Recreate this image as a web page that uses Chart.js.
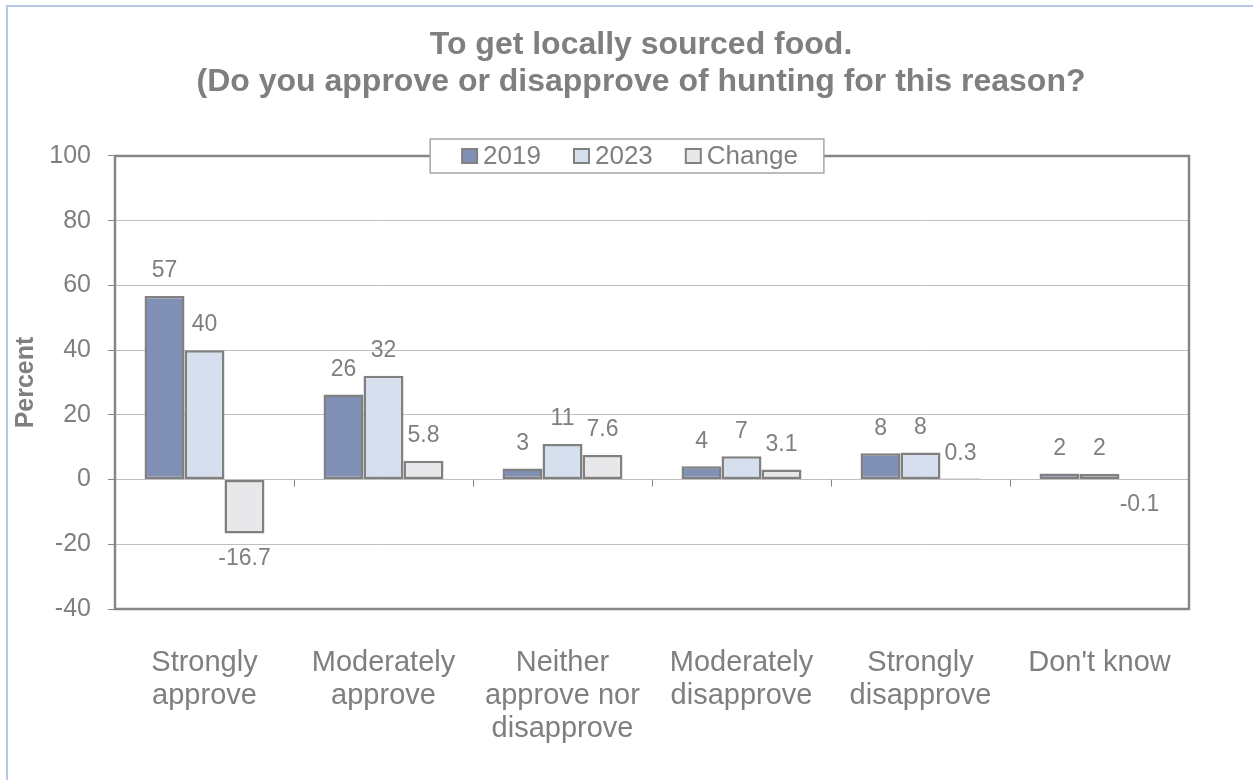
<!DOCTYPE html>
<html>
<head>
<meta charset="utf-8">
<title>To get locally sourced food</title>
<script src="https://cdn.jsdelivr.net/npm/chart.js@4.4.1/dist/chart.umd.min.js"></script>
<style>
    html, body { margin: 0; padding: 0; background: #fff; }
    #wrap { position: relative; width: 1253px; height: 780px; }
</style>
</head>
<body>
<div id="wrap"><canvas id="chart" width="1253" height="780"></canvas></div>
<script>
// ===== DATA =====
const categories = [
    ['Strongly', 'approve'],
    ['Moderately', 'approve'],
    ['Neither', 'approve nor', 'disapprove'],
    ['Moderately', 'disapprove'],
    ['Strongly', 'disapprove'],
    ["Don't know"]
];
const seriesNames = ['2019', '2023', 'Change'];
const values2019 = [56.7, 26.3, 3.4, 4.1, 8.1, 1.9];
const values2023 = [40.0, 32.1, 11.0, 7.2, 8.4, 1.8];
const valuesChange = [-16.7, 5.8, 7.6, 3.1, 0.3, -0.1];
const yMin = -40;
const yMax = 100;
const yStep = 20;

// ===== STYLE =====
const FONT = "'Liberation Sans', Arial, Helvetica, sans-serif";
const TEXT = '#7f7f7f';
const EDGE = '#808080';
const fills = ['#8090b4', '#d6dfee', '#e8e8ea'];

// ===== EXTRA DRAWING: frame, ticks, value labels, legend =====
const framePlugin = {
    id: 'frame',
    afterLayout(chart) {
        // title sits slightly left of the plot centre
        const t = chart.titleBlock;
        if (t) { t.left -= 11; t.right -= 11; }
    },
    beforeDraw(chart) {
        const ctx = chart.ctx;
        ctx.save();
        ctx.strokeStyle = '#b4c7e7';
        ctx.lineWidth = 2;
        ctx.beginPath();
        ctx.moveTo(7, 780);
        ctx.lineTo(7, 6);
        ctx.lineTo(1253, 6);
        ctx.stroke();
        ctx.restore();
    },
    afterDraw(chart) {
        const { ctx, chartArea: a, scales: { x, y } } = chart;
        ctx.save();

        // plot border
        ctx.strokeStyle = '#868686';
        ctx.lineWidth = 2.5;
        ctx.strokeRect(a.left, a.top, a.right - a.left, a.bottom - a.top);

        // category ticks on the zero line
        const y0 = y.getPixelForValue(0);
        ctx.lineWidth = 1;
        ctx.strokeStyle = '#868686';
        for (let i = 1; i < categories.length; i++) {
            const px = Math.round((x.getPixelForTick(i - 1) + x.getPixelForTick(i)) / 2) + 0.5;
            ctx.beginPath();
            ctx.moveTo(px, y0);
            ctx.lineTo(px, y0 + 7);
            ctx.stroke();
        }

        // value labels
        ctx.font = '23px ' + FONT;
        ctx.fillStyle = TEXT;
        ctx.textAlign = 'center';
        ctx.textBaseline = 'middle';
        chart.data.datasets.forEach((ds, i) => {
            const meta = chart.getDatasetMeta(i);
            meta.data.forEach((bar, j) => {
                const v = ds.data[j];
                const txt = i === 2 ? v.toFixed(1) : String(Math.round(v));
                const ty = v >= 0 ? bar.y - 25 : bar.y + 25;
                ctx.fillText(txt, bar.x, ty);
            });
        });

        // legend box over the top border
        ctx.font = '26px ' + FONT;
        const sw = 15, gapText = 6, gapItem = 33;
        const widths = chart.data.datasets.map(ds => sw + gapText + ctx.measureText(ds.label).width);
        const total = widths.reduce((s, w) => s + w, 0) + gapItem * (widths.length - 1);
        const cy = a.top;
        let lx = 630 - total / 2;
        ctx.fillStyle = '#fff';
        ctx.fillRect(lx - 32, cy - 17, total + 58, 34);
        ctx.strokeStyle = '#a6a6a6';
        ctx.lineWidth = 1.5;
        ctx.strokeRect(lx - 32, cy - 17, total + 58, 34);
        ctx.textAlign = 'left';
        chart.data.datasets.forEach((ds, i) => {
            ctx.fillStyle = ds.backgroundColor;
            ctx.fillRect(lx, cy - 7, sw, 14);
            ctx.strokeStyle = EDGE;
            ctx.lineWidth = 2;
            ctx.strokeRect(lx, cy - 7, sw, 14);
            ctx.fillStyle = TEXT;
            ctx.fillText(ds.label, lx + sw + gapText, cy + 1);
            lx += widths[i] + gapItem;
        });

        ctx.restore();
    }
};

// ===== CHART =====
function makeDataset(label, data, color) {
    return {
        label: label,
        data: data,
        backgroundColor: color,
        borderColor: EDGE,
        borderWidth: 2.5,
        borderSkipped: false,
        categoryPercentage: 0.67,
        barPercentage: 1.0
    };
}

new Chart(document.getElementById('chart'), {
    type: 'bar',
    data: {
        labels: categories,
        datasets: [
            makeDataset(seriesNames[0], values2019, fills[0]),
            makeDataset(seriesNames[1], values2023, fills[1]),
            makeDataset(seriesNames[2], valuesChange, fills[2])
        ]
    },
    options: {
        responsive: false,
        animation: false,
        devicePixelRatio: 1,
        layout: { padding: { left: 0, right: 64, top: 0, bottom: 0 } },
        plugins: {
            legend: { display: false },
            tooltip: { enabled: false },
            title: {
                display: true,
                text: ['To get locally sourced food.', '(Do you approve or disapprove of hunting for this reason?'],
                color: TEXT,
                font: { family: FONT, size: 32, weight: 'bold', lineHeight: 1.156 },
                padding: { top: 27, bottom: 55 },
                fullSize: false
            }
        },
        scales: {
            x: {
                grid: { display: false, drawTicks: false },
                border: { display: false },
                ticks: {
                    color: TEXT,
                    padding: 37,
                    maxRotation: 0,
                    autoSkip: false,
                    font: { family: FONT, size: 29, lineHeight: 1.14 }
                },
                afterFit(scale) { scale.height = 171; }
            },
            y: {
                min: yMin,
                max: yMax,
                ticks: {
                    stepSize: yStep,
                    color: TEXT,
                    padding: 17,
                    font: { family: FONT, size: 25 }
                },
                grid: {
                    color: '#bfbfbf',
                    lineWidth: 1,
                    tickColor: '#868686',
                    tickLength: 7
                },
                border: { display: false },
                title: {
                    display: true,
                    text: 'Percent',
                    color: TEXT,
                    padding: { top: 11, bottom: 0 },
                    font: { family: FONT, size: 25, weight: 'bold', lineHeight: 1.2 }
                },
                afterFit(scale) { scale.width = 115; }
            }
        }
    },
    plugins: [framePlugin]
});
</script>
</body>
</html>
